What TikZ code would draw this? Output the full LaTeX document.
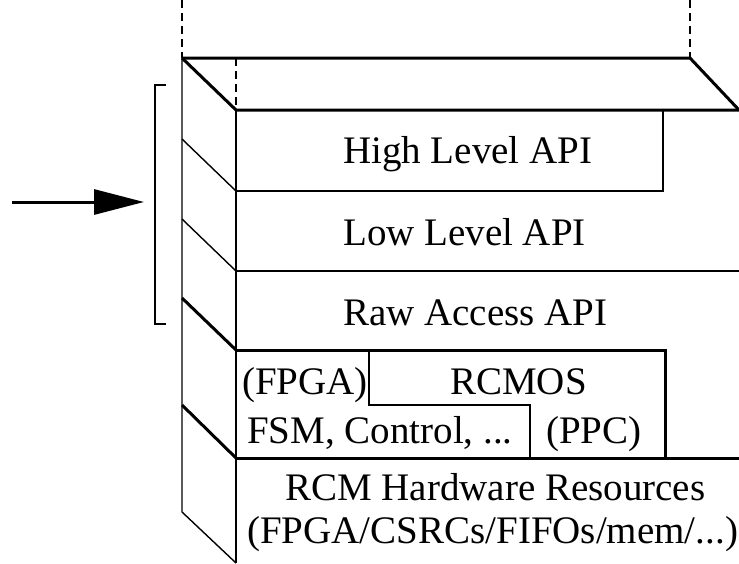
\documentclass[tikz,border=0pt]{standalone}
\usepackage{fontspec}
\setmainfont{Liberation Serif}
\usetikzlibrary{arrows.meta}
\begin{document}
\begin{tikzpicture}[x=1pt,y=-1pt,
  thinline/.style={line width=1.4pt},
  thickline/.style={line width=3pt},
  guide/.style={line width=1.4pt, dash pattern=on 8pt off 5pt},
  lbl/.style={font=\fontsize{39}{46}\selectfont, inner sep=0pt, anchor=base west},
  line join=miter]
\useasboundingbox (0,0) rectangle (739,563);

% corner points of the layered block
\coordinate (fl) at (182,58);   % front-left top
\coordinate (fr) at (690,58);   % front-right top
\coordinate (il) at (236,110);  % inner-left top
\coordinate (ir) at (739,110);  % inner-right top

% dashed guides above the block
\draw[guide] (182,0) -- (fl);
\draw[guide] (690,0) -- (fr);
\draw[guide] (fl -| il) -- (il);

% top face
\draw[thickline] (fl) -- (fr) -- (ir);
\draw[thickline] (fl) -- (il) -- (ir);

% side face
\draw[thinline] (fl) -- (182,512) -- (236,563);
\draw[thinline] (il) -- (236,563);
\draw[thinline] (182,139) -- (236,191);
\draw[thinline] (182,219) -- (236,271);
\draw[thickline] (182,298) -- (236,350);
\draw[thickline] (182,405) -- (236,458);

% High Level API box
\draw[thinline] (663,110) -- (663,191) -- (236,191);
% Low Level API separator
\draw[thinline] (236,271) -- (739,271);
% RCMOS layer outline
\draw[thickline] (236,350) -- (665,350) -- (665,458);
\draw[thickline] (236,458) -- (739,458);
% inner split of the RCMOS layer
\draw[thinline] (369,350) -- (369,405) -- (530,405) -- (530,458);

% bracket
\draw[thinline] (166,85) -- (155,85) -- (155,324) -- (166,324);

% incoming arrow
\coordinate (as) at (12,202);
\coordinate (ae) at (144,202);
\draw[line width=3pt, -{Triangle[length=50pt,width=25pt]}] (as) -- (ae);

% labels
\node[lbl] (hl)  at (343,163) {High Level API};
\node[lbl] (ll)  at (343,245) {Low Level API};
\node[lbl] (raw) at (343,325) {Raw Access API};
\node[lbl] (fp)  at (242,394) {(FPGA)};
\node[lbl] (rc)  at (450,394) {RCMOS};
\node[lbl] (fsm) at (247,443) {FSM, Control, ...};
\node[lbl] (ppc) at (546,443) {(PPC)};
\node[lbl] (hw1) at (285,500) {RCM Hardware Resources};
\node[lbl] (hw2) at (247,543) {(FPGA/CSRCs/FIFOs/mem/...)};
\end{tikzpicture}
\end{document}
